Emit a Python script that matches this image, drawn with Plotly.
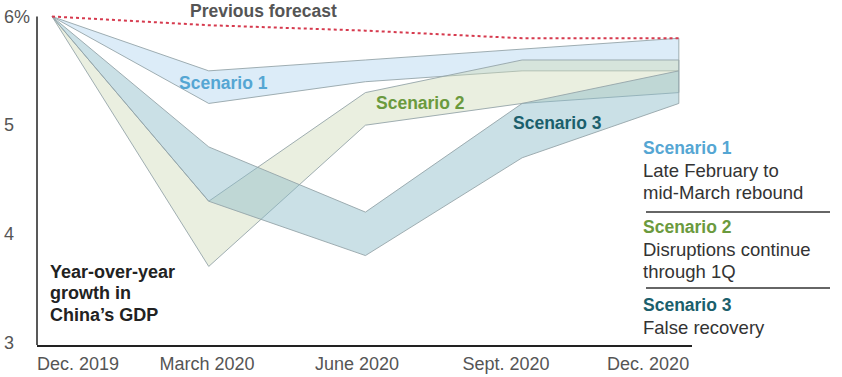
import plotly.graph_objects as go

# ---------------- data ----------------
quarters = ["Dec. 2019", "March 2020", "June 2020", "Sept. 2020", "Dec. 2020"]
previous_forecast = [6.0, 5.92, 5.87, 5.8, 5.8]
s1_upper = [6.0, 5.5, 5.6, 5.7, 5.8]
s1_lower = [6.0, 5.2, 5.4, 5.5, 5.5]
s2_upper = [6.0, 4.3, 5.3, 5.6, 5.6]
s2_lower = [6.0, 3.7, 5.0, 5.2, 5.3]
s3_upper = [6.0, 4.8, 4.2, 5.2, 5.5]
s3_lower = [6.0, 4.3, 3.8, 4.7, 5.2]
y_ticks = [3, 4, 5, 6]
y_tick_text = ["3", "4", "5", "6%"]
scenario_names = ["Scenario 1", "Scenario 2", "Scenario 3"]
scenario_desc = [["Late February to", "mid-March rebound"],
                 ["Disruptions continue", "through 1Q"],
                 ["False recovery"]]
axis_title = ["Year-over-year", "growth in", "China\u2019s GDP"]

# ---------------- layout helpers ----------------
W, H = 842, 377
L, R, T, B = 37, 692, 5, 345
FONT = "Liberation Sans, Arial, Helvetica, sans-serif"
def px(x):
    return (x - L) / (R - L)
def py(y):
    return (B - y) / (B - T)

xs = list(range(len(quarters)))
fig = go.Figure()

bands = [
    (s1_upper, s1_lower, "rgba(180,215,240,0.47)"),
    (s2_upper, s2_lower, "rgba(205,218,180,0.42)"),
    (s3_upper, s3_lower, "rgba(140,187,200,0.46)"),
]
for (up, lo, col), name in zip(bands, scenario_names):
    fig.add_trace(go.Scatter(
        x=xs + xs[::-1], y=up + lo[::-1], mode="lines", fill="toself",
        fillcolor=col, line=dict(color="rgba(150,165,170,0.9)", width=1),
        name=name, hoverinfo="skip", showlegend=False))

fig.add_trace(go.Scatter(
    x=xs, y=previous_forecast, mode="lines",
    line=dict(color="#d63a4e", width=2, dash="dot"),
    name="Previous forecast", showlegend=False, cliponaxis=False))

label_shift = [0.166, -0.011, -0.054, -0.103, -0.196]
fig.update_xaxes(
    range=[-0.096, 4.084], showgrid=False, zeroline=False,
    showline=True, linecolor="#222", linewidth=1.5,
    tickvals=[i + s for i, s in enumerate(label_shift)], ticktext=quarters,
    ticks="", tickfont=dict(family=FONT, size=18, color="#555"),
    ticklabelstandoff=2, automargin=False, fixedrange=True)
fig.update_yaxes(
    range=[2.977, 6.106], showgrid=False, zeroline=False, showline=False,
    tickvals=y_ticks, showticklabels=False, ticks="", automargin=False,
    fixedrange=True)

shapes = [
    dict(type="line", xref="paper", yref="y", x0=0, x1=0, y0=2.977, y1=6.0,
         line=dict(color="#222", width=1.5)),
    dict(type="line", xref="paper", yref="paper", x0=px(646), x1=px(830),
         y0=py(212), y1=py(212), line=dict(color="#333", width=1.5)),
    dict(type="line", xref="paper", yref="paper", x0=px(646), x1=px(830),
         y0=py(288), y1=py(288), line=dict(color="#333", width=1.5)),
]

ann = []
def text(x, y, s, size, color, bold=False, anchor="left"):
    ann.append(dict(x=px(x), y=py(y), xref="paper", yref="paper", text=("<b>%s</b>" % s) if bold else s,
                    showarrow=False, xanchor=anchor, yanchor="middle",
                    font=dict(family=FONT, size=size, color=color)))

for v, t in zip(y_ticks, y_tick_text):
    ann.append(dict(x=px(2), y=v, xref="paper", yref="y", text=t, showarrow=False,
                    xanchor="left", yanchor="middle",
                    font=dict(family=FONT, size=18, color="#555")))

text(263, 11, "Previous forecast", 17.5, "#555", bold=True, anchor="center")
colors = ["#55a6d3", "#6b9a3e", "#1b5f6c"]
text(177, 83, scenario_names[0], 17.5, colors[0], bold=True)
text(374, 103, scenario_names[1], 17.5, colors[1], bold=True)
text(511, 123, scenario_names[2], 17.5, colors[2], bold=True)

for i, yy in enumerate([272, 293, 315]):
    text(48, yy, axis_title[i], 18, "#222", bold=True)

heads_y = [148, 227, 305]
for k in range(3):
    text(641, heads_y[k], scenario_names[k], 17.5, colors[k], bold=True)
    for j, line in enumerate(scenario_desc[k]):
        text(641, heads_y[k] + 22 * (j + 1), line, 18.5, "#333")

fig.update_layout(
    width=W, height=H, margin=dict(l=L, r=W - R, t=T, b=H - B),
    paper_bgcolor="white", plot_bgcolor="white",
    shapes=shapes, annotations=ann, showlegend=False)

fig.write_html("out.html", config={"displayModeBar": False},
               post_script="document.body.style.margin='0';document.body.style.overflow='hidden';")
